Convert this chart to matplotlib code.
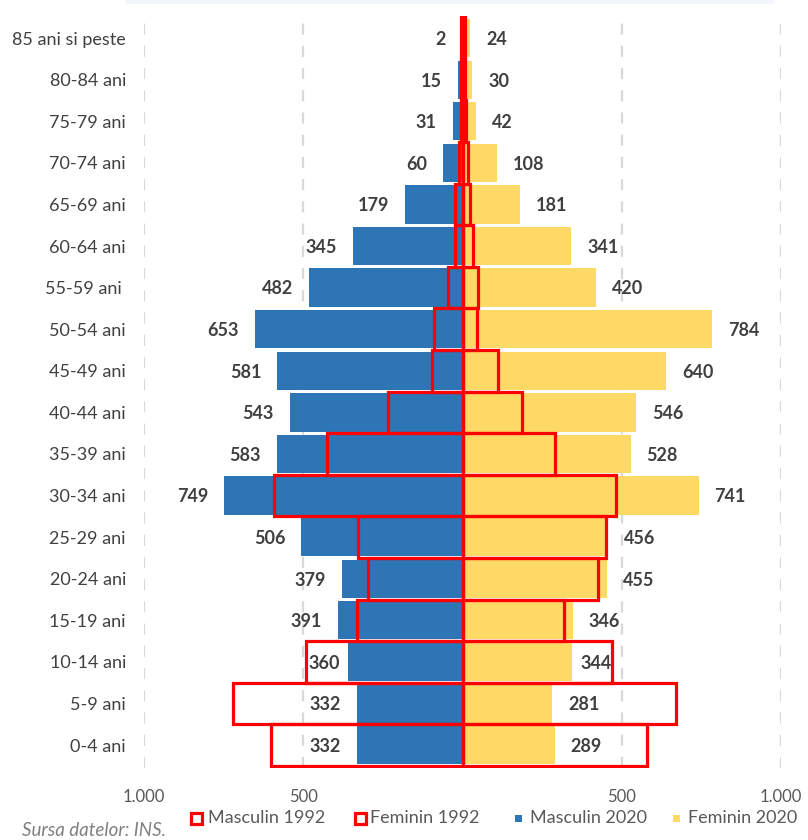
import matplotlib
matplotlib.use("Agg")
import matplotlib.pyplot as plt
from matplotlib.patches import Rectangle

plt.rcParams['font.family'] = ['Lato', 'DejaVu Sans']

categories = ["0-4 ani", "5-9 ani", "10-14 ani", "15-19 ani", "20-24 ani", "25-29 ani",
              "30-34 ani", "35-39 ani", "40-44 ani", "45-49 ani", "50-54 ani", "55-59 ani ",
              "60-64 ani", "65-69 ani", "70-74 ani", "75-79 ani", "80-84 ani", "85 ani si peste"]
male_2020 = [332, 332, 360, 391, 379, 506, 749, 583, 543, 581, 653, 482, 345, 179, 60, 31, 15, 2]
female_2020 = [289, 281, 344, 346, 455, 456, 741, 528, 546, 640, 784, 420, 341, 181, 108, 42, 30, 24]
male_1992 = [601, 719, 490, 330, 296, 329, 592, 426, 233, 96, 89, 44, 23, 23, 11, 6, 5, 4]
female_1992 = [580, 671, 470, 319, 427, 450, 481, 291, 186, 110, 47, 49, 33, 23, 18, 11, 9, 9]
xticks = [-1000, -500, 500, 1000]
xticklabels = ["1.000", "500", "500", "1.000"]
legend_labels = ["Masculin 1992", "Feminin 1992", "Masculin 2020", "Feminin 2020"]
source = "Sursa datelor: INS."

W, H = 808, 840
BLUE = "#2E75B6"
YELLOW = "#FFD966"
RED = "#FF0000"

fig = plt.figure(figsize=(W / 100, H / 100), dpi=100)
ax = fig.add_axes([144 / W, 1 - 768 / H, (781 - 144) / W, (768 - 16) / H])

y = list(range(len(categories)))
for xv in xticks:
    ax.axvline(xv, color="#d9d9d9", lw=1.6, dashes=(5, 5), zorder=0)

ax.barh(y, [-v for v in male_2020], height=0.92, color=BLUE, zorder=2)
ax.barh(y, female_2020, height=0.92, color=YELLOW, zorder=2)
ax.barh(y, [-v for v in male_1992], height=1.0, fill=False, edgecolor=RED, lw=2.3, zorder=3)
ax.barh(y, female_1992, height=1.0, fill=False, edgecolor=RED, lw=2.3, zorder=3)

# labels sit a little closer to the bar where they must fit inside the 1992 outline
close_rows = {2}
for yi, m, f in zip(y, male_2020, female_2020):
    off = 6 if yi in close_rows else 11.5
    ax.annotate(str(m), (-m, yi), xytext=(-off, -1), textcoords="offset points",
                ha="right", va="center", fontsize=13, fontweight="bold",
                color="#404040", zorder=4)
    ax.annotate(str(f), (f, yi), xytext=(off, -1), textcoords="offset points",
                ha="left", va="center", fontsize=13, fontweight="bold",
                color="#404040", zorder=4)

ax.set_xlim(-1000, 1000)
ax.set_ylim(-0.55, 17.53)
ax.set_yticks(y)
ax.set_yticklabels(categories, fontsize=13, color="#404040")
ax.set_xticks(xticks)
ax.set_xticklabels(xticklabels, fontsize=12, color="#595959")
ax.tick_params(axis="y", length=0, pad=13)
ax.tick_params(axis="x", length=0, pad=15)
for s in ax.spines.values():
    s.set_visible(False)

# faint strip at top
fig.add_artist(Rectangle((125 / W, 1 - 4 / H), (774 - 125) / W, 4 / H,
                         transform=fig.transFigure, color="#f2f5f9", lw=0))

# legend
ly = 818
items = [(196, 208, "outline"), (360, 370, "outline"), (518, 530, BLUE), (676, 688, YELLOW)]
for (mx, tx, kind), lab in zip(items, legend_labels):
    if kind == "outline":
        s = 11
        fig.add_artist(Rectangle(((mx - s / 2) / W, 1 - (ly + s / 2) / H), s / W, s / H,
                                 transform=fig.transFigure, facecolor="white",
                                 edgecolor=RED, lw=2.3))
    else:
        s = 7
        fig.add_artist(Rectangle(((mx - s / 2) / W, 1 - (ly + s / 2) / H), s / W, s / H,
                                 transform=fig.transFigure, facecolor=kind, lw=0))
    fig.text(tx / W, 1 - ly / H, lab, fontsize=13, color="#595959", ha="left", va="center")

fig.text(22 / W, 1 - 831 / H, source, fontsize=13.5, color="#808080", style="italic",
         ha="left", va="center")

fig.savefig("out.png", dpi=100)
